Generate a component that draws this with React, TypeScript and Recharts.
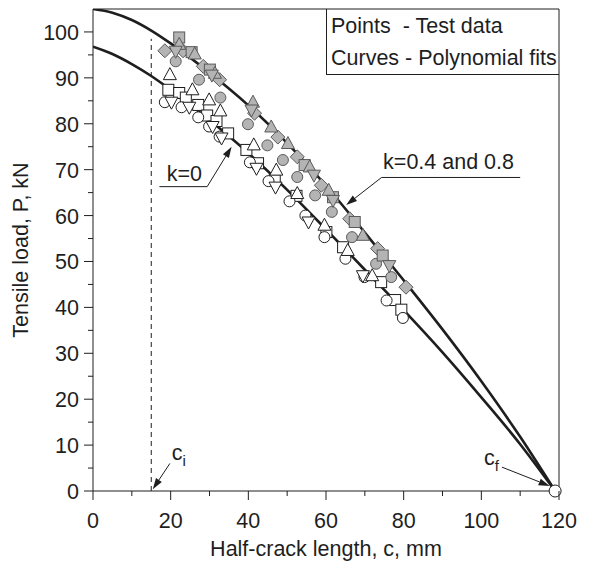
import React from "react";
import { ComposedChart, XAxis, YAxis, Line, Scatter, ReferenceLine, ReferenceDot } from "recharts";

const FONT = '"Liberation Sans", Arial, sans-serif';
const INK = "#1e1e1e";
const GREY_FILL = "#b4b4b4";
const GREY_EDGE = "#5a5a5a";
const FS = 21.5;

// axis ticks
const xTicks = [0, 10, 20, 30, 40, 50, 60, 70, 80, 90, 100, 110, 120];
const yTicks = [0, 5, 10, 15, 20, 25, 30, 35, 40, 45, 50, 55, 60, 65, 70, 75, 80, 85, 90, 95, 100];

// polynomial fit curves, [c mm, P kN]
const fitUpper = [
  [0, 105], [5, 104.2], [10, 102.6], [15, 100.3], [20, 97.5], [30, 91.1], [40, 84.0],
  [50, 75.8], [60, 66.5], [70, 56.3], [80, 45.9], [90, 35.2], [100, 23.9], [110, 11.8], [119, 0],
];
const fitLower = [
  [0, 96.8], [5, 95.2], [10, 93.0], [15, 90.4], [20, 87.4], [30, 80.8], [40, 73.6],
  [50, 65.6], [60, 57.0], [70, 48.2], [80, 39.4], [90, 30.2], [100, 20.4], [110, 10.2], [119, 0],
];

// test data, k = 0.4 and 0.8 (grey markers)
const greyDiamond = [
  [18.5, 95.9], [23.2, 95.9], [28.4, 92.5], [32.6, 89.6], [41.6, 82.3], [47.6, 77.1],
  [52.6, 72.8], [58.8, 66.6], [66.1, 59.3], [73.3, 52.8], [80.6, 44.4],
];
const greySquare = [
  [22.2, 98.8], [25.4, 95.6], [30.1, 91.8], [54.5, 71.0], [61.8, 64.0], [67.4, 58.6], [74.6, 51.3],
];
const greyUp = [
  [22.2, 97.3], [26.2, 95.2], [31.4, 91.0], [41.2, 84.7], [45.9, 79.3], [50.2, 75.7],
  [55.8, 70.6], [60.7, 65.5], [69.5, 55.7],
];
const greyDown = [
  [21.3, 95.8], [30.6, 90.6], [40.8, 83.0], [56.9, 68.8], [61.8, 63.3], [76.3, 49.1],
];
const greyCircle = [
  [21.3, 93.6], [27.3, 89.6], [32.8, 85.7], [39.9, 79.9], [44.9, 75.3], [48.9, 72.1],
  [52.6, 68.4], [57.2, 64.4], [61.5, 60.8], [66.7, 55.3], [72.9, 49.5], [76.8, 46.6],
];

// test data, k = 0 (open markers)
const openSquare = [
  [19.4, 87.4], [22.2, 86.7], [23.9, 85.7], [27.1, 84.1], [29.4, 81.8], [31.8, 80.6],
  [34.8, 77.9], [39.5, 74.3], [42.5, 71.4], [46.8, 67.7], [52.4, 64.3], [60.1, 56.4],
  [64.4, 53.1], [74.2, 45.5], [77.8, 41.6], [79.4, 39.5],
];
const openCircle = [
  [18.5, 84.7], [22.8, 83.6], [27.1, 81.4], [29.9, 79.4], [32.6, 77.2], [40.4, 71.6],
  [45.2, 67.5], [50.6, 63.1], [54.7, 60.0], [59.6, 55.3], [65.0, 50.6], [69.9, 46.6],
  [75.6, 41.5], [79.8, 37.7],
];
const openUp = [
  [19.8, 90.7], [25.6, 87.4], [29.9, 85.2], [32.8, 82.8], [41.4, 75.4], [47.2, 69.9],
  [52.6, 64.8], [59.6, 57.9], [65.6, 52.4], [71.9, 46.9],
];
const openDown = [
  [20.2, 84.7], [24.8, 83.6], [30.8, 79.4], [33.1, 76.9], [42.1, 70.3], [47.0, 66.2],
  [55.5, 58.6], [69.5, 46.9],
];

// final crack length at zero load
const failurePoint = [119, 0];

const pts = (rows: number[][]) => rows.map(([c, p]) => ({ c, p }));

type Kind = "circle" | "square" | "diamond" | "up" | "down";

const marker = (kind: Kind, filled: boolean) => (props: any) => {
  const { cx, cy } = props;
  const fill = filled ? GREY_FILL : "#fff";
  const stroke = filled ? GREY_EDGE : INK;
  const common = { fill, stroke, strokeWidth: 1 };
  switch (kind) {
    case "circle":
      return <circle cx={cx} cy={cy} r={5.5} {...common} />;
    case "square":
      return <rect x={cx - 5.5} y={cy - 5.5} width={11} height={11} {...common} />;
    case "diamond":
      return <polygon points={`${cx},${cy - 7} ${cx + 7},${cy} ${cx},${cy + 7} ${cx - 7},${cy}`} {...common} />;
    case "up":
      return <polygon points={`${cx},${cy - 7} ${cx + 6.5},${cy + 5} ${cx - 6.5},${cy + 5}`} {...common} />;
    default:
      return <polygon points={`${cx},${cy + 7} ${cx + 6.5},${cy - 5} ${cx - 6.5},${cy - 5}`} {...common} />;
  }
};

const BottomTick = (props: any) => {
  const { x, y, payload } = props;
  const major = payload.value % 20 === 0;
  return (
    <g>
      <line x1={x} y1={y} x2={x} y2={y + (major ? 9 : 5)} stroke={INK} />
      {major && (
        <text x={x} y={y + 37} textAnchor="middle" fontFamily={FONT} fontSize={FS} fill={INK}>
          {payload.value}
        </text>
      )}
    </g>
  );
};

const LeftTick = (props: any) => {
  const { x, y, payload } = props;
  const major = payload.value % 10 === 0;
  return (
    <g>
      <line x1={x - (major ? 9 : 5)} y1={y} x2={x} y2={y} stroke={INK} />
      {major && (
        <text x={x - 14} y={y + 8} textAnchor="end" fontFamily={FONT} fontSize={FS} fill={INK}>
          {payload.value}
        </text>
      )}
    </g>
  );
};

// line with a filled arrow head at its second end
const arrow = (props: any) => {
  const { x1, y1, x2, y2 } = props;
  const a = Math.atan2(y2 - y1, x2 - x1);
  const len = 11;
  const half = 3.5;
  const bx = x2 - len * Math.cos(a);
  const by = y2 - len * Math.sin(a);
  const head = `${x2},${y2} ${bx + half * Math.sin(a)},${by - half * Math.cos(a)} ${bx - half * Math.sin(a)},${by + half * Math.cos(a)}`;
  return (
    <g>
      <line x1={x1} y1={y1} x2={bx} y2={by} stroke={INK} strokeWidth={1} />
      <polygon points={head} fill={INK} />
    </g>
  );
};

const label = (text: string, sub?: string) => (props: any) => (
  <text x={props.cx} y={props.cy} fontFamily={FONT} fontSize={FS} fill={INK}>
    {text}
    {sub && (
      <tspan fontSize={15} dy={6}>
        {sub}
      </tspan>
    )}
  </text>
);

const seriesList: Array<{ rows: number[][]; kind: Kind; filled: boolean }> = [
  { rows: openSquare, kind: "square", filled: false },
  { rows: openCircle, kind: "circle", filled: false },
  { rows: openUp, kind: "up", filled: false },
  { rows: openDown, kind: "down", filled: false },
  { rows: greyCircle, kind: "circle", filled: true },
  { rows: greyDiamond, kind: "diamond", filled: true },
  { rows: greySquare, kind: "square", filled: true },
  { rows: greyUp, kind: "up", filled: true },
  { rows: greyDown, kind: "down", filled: true },
];

export default function App() {
  return (
    <div style={{ position: "absolute", left: 0, top: 0, width: 590, height: 563, background: "#fff" }}>
      <div
        style={{
          position: "absolute",
          left: 326,
          top: 9,
          width: 233,
          height: 66,
          borderLeft: `1px solid ${INK}`,
          borderBottom: `1px solid ${INK}`,
          fontFamily: FONT,
          fontSize: FS,
          color: INK,
          lineHeight: "32px",
          paddingLeft: 4,
          whiteSpace: "pre",
          boxSizing: "border-box",
        }}
      >
        <div style={{ marginTop: 1 }}>{"Points  - Test data"}</div>
        <div>Curves - Polynomial fits</div>
      </div>
      <div style={{ position: "absolute", left: 0, top: 0 }}>
        <ComposedChart width={590} height={563} margin={{ top: 9, right: 31, bottom: 0, left: 0 }}>
          <XAxis
            type="number"
            dataKey="c"
            domain={[0, 120]}
            ticks={xTicks}
            interval={0}
            allowDataOverflow
            height={72}
            tickSize={0}
            tickMargin={0}
            tickLine={false}
            tick={<BottomTick />}
            axisLine={{ stroke: INK }}
            label={{ value: "Half-crack length, c, mm", position: "insideBottom", offset: 7, fontSize: FS, fontFamily: FONT, fill: INK }}
          />
          <XAxis
            xAxisId="top"
            type="number"
            orientation="top"
            mirror
            domain={[0, 120]}
            ticks={xTicks}
            interval={0}
            allowDataOverflow
            tickSize={5}
            tick={false}
            tickLine={{ stroke: INK }}
            axisLine={{ stroke: INK }}
          />
          <YAxis
            type="number"
            dataKey="p"
            domain={[0, 105]}
            ticks={yTicks}
            interval={0}
            allowDataOverflow
            width={93}
            tickSize={0}
            tickMargin={0}
            tickLine={false}
            tick={<LeftTick />}
            axisLine={{ stroke: INK }}
            label={{ value: "Tensile load, P, kN", angle: -90, position: "insideLeft", offset: 20, fontSize: FS, fontFamily: FONT, fill: INK, style: { textAnchor: "middle" } }}
          />
          <YAxis
            yAxisId="right"
            type="number"
            orientation="right"
            mirror
            domain={[0, 105]}
            ticks={yTicks}
            interval={0}
            allowDataOverflow
            tickSize={5}
            tick={false}
            tickLine={{ stroke: INK }}
            axisLine={{ stroke: INK }}
          />

          <ReferenceLine
            segment={[{ x: 15, y: 0 }, { x: 15, y: 98.5 }]}
            stroke={INK}
            strokeWidth={1}
            strokeDasharray="5 4"
          />

          <Line data={pts(fitUpper)} dataKey="p" type="monotone" stroke={INK} strokeWidth={2.6} dot={false} isAnimationActive={false} />
          <Line data={pts(fitLower)} dataKey="p" type="monotone" stroke={INK} strokeWidth={2.6} dot={false} isAnimationActive={false} />

          {seriesList.map((s, i) => (
            <Scatter
              key={i}
              data={pts(s.rows)}
              shape={marker(s.kind, s.filled)}
              isAnimationActive={false}
            />
          ))}

          {/* callouts */}
          <ReferenceLine segment={[{ x: 17.1, y: 66.3 }, { x: 29.4, y: 66.3 }]} stroke={INK} strokeWidth={1} />
          <ReferenceLine segment={[{ x: 29.4, y: 66.3 }, { x: 35.7, y: 75.0 }]} shape={arrow} />
          <ReferenceDot x={19} y={67.6} shape={label("k=0")} />

          <ReferenceLine segment={[{ x: 74.3, y: 68.3 }, { x: 110, y: 68.3 }]} stroke={INK} strokeWidth={1} />
          <ReferenceLine segment={[{ x: 74.3, y: 68.3 }, { x: 65.2, y: 62.3 }]} shape={arrow} />
          <ReferenceDot x={74.7} y={70.2} shape={label("k=0.4 and 0.8")} />

          <ReferenceLine segment={[{ x: 19.8, y: 6.0 }, { x: 15.4, y: 0.4 }]} shape={arrow} />
          <ReferenceDot x={20.3} y={6.8} shape={label("c", "i")} />

          <ReferenceLine segment={[{ x: 105.3, y: 5.2 }, { x: 117.6, y: 1.1 }]} shape={arrow} />
          <ReferenceDot x={100.7} y={5.7} shape={label("c", "f")} />

          <ReferenceDot
            x={failurePoint[0]}
            y={failurePoint[1]}
            r={6}
            fill="#fff"
            stroke={INK}
            strokeWidth={1}
            ifOverflow="visible"
          />
        </ComposedChart>
      </div>
    </div>
  );
}
